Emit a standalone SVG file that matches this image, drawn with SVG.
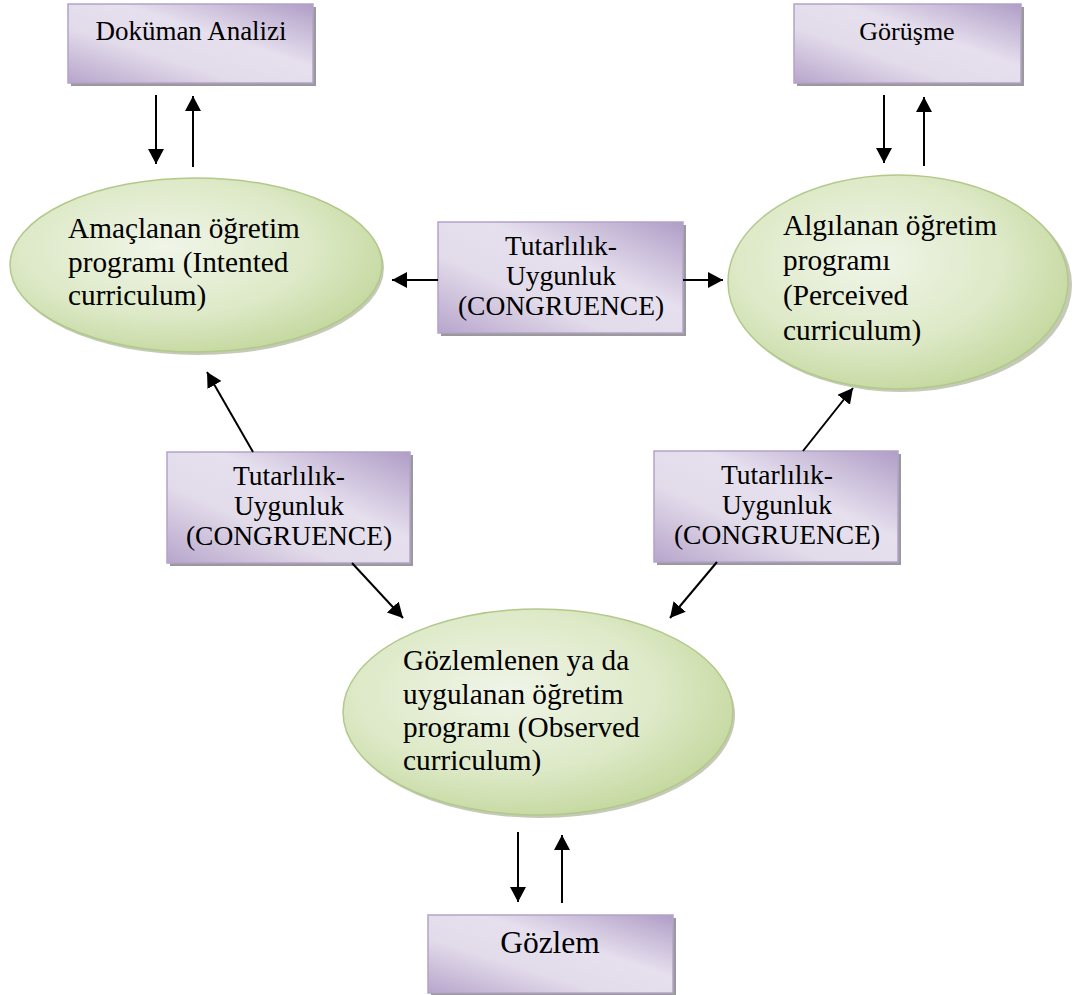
<svg xmlns="http://www.w3.org/2000/svg" width="1073" height="995" viewBox="0 0 1073 995">
<defs>
<linearGradient id="boxg" x1="0" y1="1" x2="1" y2="0">
<stop offset="0" stop-color="#b7a5cb"/>
<stop offset="0.35" stop-color="#e2dbea"/>
<stop offset="0.6" stop-color="#e6e0ee"/>
<stop offset="1" stop-color="#b09dc6"/>
</linearGradient>
<radialGradient id="ellg" cx="0.42" cy="0.4" r="0.65">
<stop offset="0" stop-color="#f0f5e8"/>
<stop offset="0.6" stop-color="#dde9c7"/>
<stop offset="1" stop-color="#c3d79c"/>
</radialGradient>
<marker id="ah" markerWidth="10" markerHeight="10" refX="7.5" refY="4" orient="auto" markerUnits="strokeWidth">
<path d="M0,0 L7.5,4 L0,8 Z" fill="#000"/>
</marker>
</defs>
<style>
.box{fill:url(#boxg);stroke:#b4a3ca;stroke-width:1.5}
.bsh{fill:#9a9a9a}
.ell{fill:url(#ellg);stroke:#b2c98a;stroke-width:1.5}
.esh{fill:#c4c9b8}
.t{font-family:"Liberation Serif","Times New Roman",serif;fill:#000}
.c{text-anchor:middle}
.con{stroke:#000;stroke-width:2;fill:none;marker-end:url(#ah)}
</style>
<rect width="1073" height="995" fill="#fff"/>

<g id="dokuman">
<rect class="bsh" x="71" y="7" width="245" height="79"/>
<rect class="box" x="68" y="4" width="245" height="79"/>
<text class="t c" x="191" y="40" font-size="27">Doküman Analizi</text>
</g>

<g id="gorusme">
<rect class="bsh" x="797" y="7" width="227" height="79"/>
<rect class="box" x="794" y="4" width="227" height="79"/>
<text class="t c" x="907" y="40" font-size="26">Görüşme</text>
</g>

<g id="amaclanan">
<ellipse class="esh" cx="198" cy="268" rx="186" ry="87"/>
<ellipse class="ell" cx="196" cy="265" rx="186" ry="87"/>
<text class="t" font-size="29.3"><tspan x="68" y="238">Amaçlanan öğretim</tspan><tspan x="68" y="272">programı (Intented</tspan><tspan x="68" y="305">curriculum)</tspan></text>
</g>

<g id="algilanan">
<ellipse class="esh" cx="901" cy="285" rx="171" ry="107"/>
<ellipse class="ell" cx="898" cy="282" rx="170" ry="107"/>
<text class="t" font-size="29.3"><tspan x="783" y="235">Algılanan öğretim</tspan><tspan x="783" y="270">programı</tspan><tspan x="783" y="305">(Perceived</tspan><tspan x="783" y="340">curriculum)</tspan></text>
</g>

<g id="gozlemlenen">
<ellipse class="esh" cx="540" cy="715" rx="195" ry="103"/>
<ellipse class="ell" cx="538" cy="712" rx="195" ry="103"/>
<text class="t" font-size="29.3"><tspan x="403" y="670">Gözlemlenen ya da</tspan><tspan x="403" y="704">uygulanan öğretim</tspan><tspan x="403" y="737">programı (Observed</tspan><tspan x="403" y="770">curriculum)</tspan></text>
</g>

<g id="tutarlilik-top">
<rect class="bsh" x="441" y="225" width="245" height="111"/>
<rect class="box" x="438" y="222" width="245" height="111"/>
<text class="t c" font-size="27.5"><tspan x="561" y="255">Tutarlılık-</tspan><tspan x="561" y="285">Uygunluk</tspan><tspan x="561" y="315">(CONGRUENCE)</tspan></text>
</g>

<g id="tutarlilik-left">
<rect class="bsh" x="170" y="455" width="243" height="111"/>
<rect class="box" x="167" y="452" width="243" height="111"/>
<text class="t c" font-size="27.5"><tspan x="289" y="485">Tutarlılık-</tspan><tspan x="289" y="515">Uygunluk</tspan><tspan x="289" y="545">(CONGRUENCE)</tspan></text>
</g>

<g id="tutarlilik-right">
<rect class="bsh" x="657" y="454" width="244" height="111"/>
<rect class="box" x="654" y="451" width="244" height="111"/>
<text class="t c" font-size="27.5"><tspan x="777" y="484">Tutarlılık-</tspan><tspan x="777" y="514">Uygunluk</tspan><tspan x="777" y="544">(CONGRUENCE)</tspan></text>
</g>

<g id="gozlem">
<rect class="bsh" x="431" y="918" width="245" height="78"/>
<rect class="box" x="428" y="915" width="245" height="78"/>
<text class="t c" x="550" y="953" font-size="31.5">Gözlem</text>
</g>

<g id="connectors">
<line class="con" x1="156" y1="95" x2="156" y2="164"/>
<line class="con" x1="193" y1="167" x2="193" y2="96"/>
<line class="con" x1="884" y1="95" x2="884" y2="163"/>
<line class="con" x1="924" y1="166" x2="924" y2="97"/>
<line class="con" x1="518" y1="832" x2="518" y2="902"/>
<line class="con" x1="562" y1="903" x2="562" y2="835"/>
<line class="con" x1="438" y1="280" x2="392" y2="280"/>
<line class="con" x1="683" y1="280" x2="723" y2="280"/>
<line class="con" x1="253" y1="452" x2="207" y2="372"/>
<line class="con" x1="352" y1="563" x2="403" y2="618"/>
<line class="con" x1="803" y1="451" x2="853" y2="388"/>
<line class="con" x1="717" y1="562" x2="670" y2="618"/>
</g>
</svg>
